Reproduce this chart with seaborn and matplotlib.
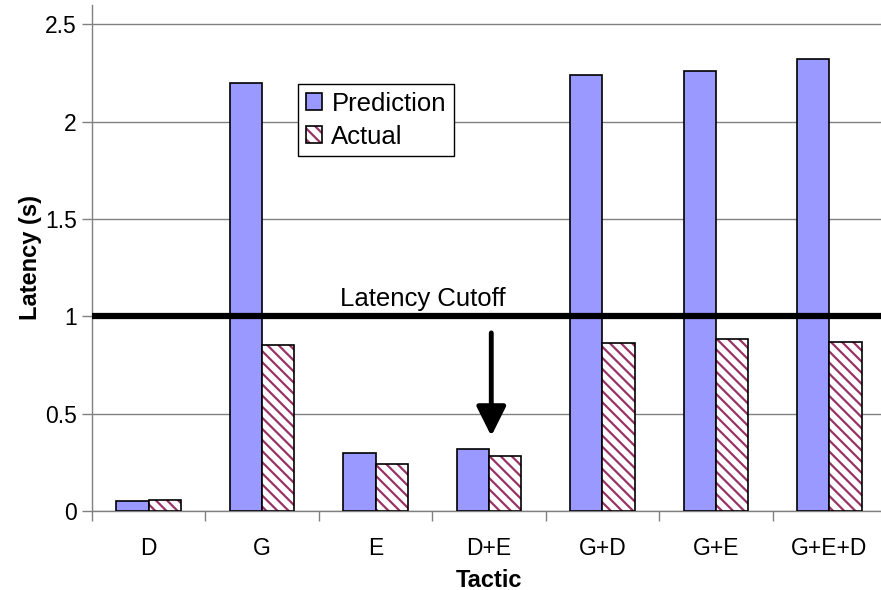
import matplotlib
matplotlib.use("Agg")
import matplotlib.pyplot as plt
import matplotlib.colors as mcolors
from matplotlib.patches import Patch
import numpy as np
import pandas as pd
import seaborn as sns

# Latency per tactic combination
tactics = ["D", "G", "E", "D+E", "G+D", "G+E", "G+E+D"]
prediction = [0.05, 2.20, 0.30, 0.32, 2.24, 2.26, 2.32]
actual = [0.057, 0.852, 0.242, 0.283, 0.865, 0.883, 0.870]
series = ["Prediction", "Actual"]
cutoff = 1.0
y_ticks = [0, 0.5, 1, 1.5, 2, 2.5]

PRED_COLOR = "#9999FF"
HATCH_COLOR = "#993366"
GRID_COLOR = "#808080"

sns.set_style("white")
plt.rcParams["font.family"] = ["Liberation Sans", "DejaVu Sans"]
plt.rcParams["hatch.linewidth"] = 1.6
for key in ["text.color", "axes.labelcolor", "xtick.labelcolor", "ytick.labelcolor"]:
    plt.rcParams[key] = "black"

df = pd.DataFrame({
    "Tactic": tactics * 2,
    "Latency": prediction + actual,
    "Series": [series[0]] * len(tactics) + [series[1]] * len(tactics),
})

fig = plt.figure(figsize=(8.81, 5.90), dpi=100)
ax = fig.add_axes([92 / 881, 79 / 590, 794 / 881, 506 / 590])

sns.barplot(data=df, x="Tactic", y="Latency", hue="Series", order=tactics,
            hue_order=series, palette=[PRED_COLOR, "white"], width=0.57,
            gap=0, saturation=1, errorbar=None, legend=False, ax=ax,
            edgecolor="black", linewidth=1.2, zorder=3)


def style_hatched(p):
    p.set_facecolor("white")
    p.set_edgecolor("black")
    p.set_hatch("\\\\\\")
    if hasattr(p, "set_hatchcolor"):
        p.set_hatchcolor(HATCH_COLOR)
    else:
        p._hatch_color = mcolors.to_rgba(HATCH_COLOR)


n = len(tactics)
for i, p in enumerate(ax.patches):
    if i >= n:
        style_hatched(p)

ax.set_xlim(-0.5, 6.5)
ax.set_ylim(0, 2.6)
ax.set_yticks(y_ticks)
ax.set_yticklabels(["0", "0.5", "1", "1.5", "2", "2.5"])

# Category labels between boundary ticks
ax.set_xticks(np.arange(-0.5, n, 1.0))
ax.set_xticklabels([])
ax.set_xticks(np.arange(n), minor=True)
ax.set_xticklabels(tactics, minor=True)
ax.tick_params(axis="x", which="major", direction="out", length=7,
               width=1, color=GRID_COLOR, bottom=True)
ax.tick_params(axis="x", which="minor", length=0, pad=19, labelsize=16.5)
ax.tick_params(axis="y", direction="out", length=7, width=1,
               color=GRID_COLOR, left=True, labelsize=16.5, pad=4)

ax.yaxis.grid(True, color=GRID_COLOR, linewidth=1)
ax.set_axisbelow(True)
for side in ["top", "right"]:
    ax.spines[side].set_visible(False)
for side in ["left", "bottom"]:
    ax.spines[side].set_color(GRID_COLOR)
    ax.spines[side].set_linewidth(1)

ax.set_xlabel("Tactic", fontsize=17, fontweight="bold", labelpad=6)
ax.set_ylabel("Latency (s)", fontsize=17, fontweight="bold", labelpad=2)

# Cutoff threshold
ax.axhline(cutoff, color="black", linewidth=4.5, zorder=4)
ax.text(2.42, cutoff + 0.054, "Latency Cutoff", ha="center", va="baseline",
        fontsize=18.5, zorder=5)

# Arrow pointing at the D+E group
ax.annotate("", xy=(3.02, 0.385), xytext=(3.02, 0.915),
            arrowprops=dict(arrowstyle="-|>,head_length=0.9,head_width=0.45",
                            color="black", lw=3.5, mutation_scale=20,
                            shrinkA=0, shrinkB=0),
            zorder=5)

handles = [
    Patch(facecolor=PRED_COLOR, edgecolor="black", linewidth=1.2),
    Patch(facecolor="white", edgecolor="black", linewidth=1.2),
]
style_hatched(handles[1])
leg = fig.legend(handles, series, loc="upper left",
                 bbox_to_anchor=(298 / 881, 1 - 84 / 590),
                 fontsize=18.5, frameon=True, fancybox=False, shadow=False,
                 borderaxespad=0, borderpad=0.3, handlelength=0.65,
                 handleheight=0.65, handletextpad=0.35, labelspacing=0.35)
leg.get_frame().set_edgecolor("black")
leg.get_frame().set_linewidth(1)
leg.get_frame().set_alpha(1)

fig.savefig("out.png", dpi=100)
